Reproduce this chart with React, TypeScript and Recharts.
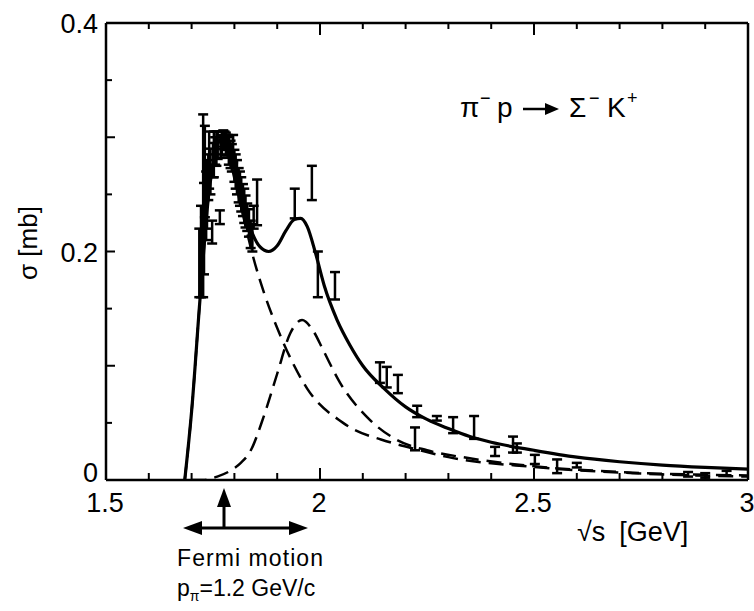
import {
  ComposedChart,
  Line,
  Scatter,
  ErrorBar,
  XAxis,
  YAxis,
} from 'recharts';

// total cross section (solid)
const totalX = [1.684, 1.7, 1.72, 1.74, 1.755, 1.765, 1.775, 1.785, 1.8, 1.82, 1.84, 1.86, 1.88, 1.9, 1.92, 1.94, 1.955, 1.97, 1.99, 2.01, 2.04, 2.07, 2.1, 2.15, 2.2, 2.25, 2.3, 2.35, 2.4, 2.5, 2.6, 2.7, 2.8, 2.9, 3.0];
const totalY = [0, 0.06, 0.16, 0.25, 0.285, 0.297, 0.3, 0.295, 0.275, 0.245, 0.218, 0.204, 0.2, 0.205, 0.218, 0.228, 0.229, 0.222, 0.198, 0.17, 0.14, 0.118, 0.1, 0.08, 0.064, 0.053, 0.045, 0.038, 0.033, 0.026, 0.02, 0.016, 0.013, 0.011, 0.0095];

// first resonance (dashed)
const res1X = [1.684, 1.7, 1.72, 1.74, 1.755, 1.765, 1.775, 1.785, 1.8, 1.82, 1.844, 1.87, 1.9, 1.923, 1.97, 2.054, 2.164, 2.234, 2.3, 2.5, 2.73, 3.0];
const res1Y = [0, 0.06, 0.16, 0.25, 0.283, 0.293, 0.295, 0.287, 0.264, 0.232, 0.195, 0.163, 0.133, 0.113, 0.08, 0.05, 0.033, 0.026, 0.02, 0.0114, 0.006, 0.003];

// second resonance (dashed)
const res2X = [1.7, 1.727, 1.76, 1.79, 1.815, 1.837, 1.868, 1.9, 1.93, 1.958, 1.985, 2.007, 2.047, 2.11, 2.18, 2.25, 2.35, 2.5, 2.7, 3.0];
const res2Y = [0, 0, 0.003, 0.008, 0.015, 0.025, 0.055, 0.093, 0.128, 0.14, 0.13, 0.114, 0.085, 0.055, 0.035, 0.026, 0.019, 0.012, 0.007, 0.004];

// measured points
const pointX = [1.718, 1.722, 1.727, 1.729, 1.731, 1.734, 1.736, 1.739, 1.741, 1.744, 1.748, 1.75, 1.752, 1.755, 1.758, 1.761, 1.766, 1.768, 1.771, 1.774, 1.777, 1.78, 1.784, 1.787, 1.791, 1.794, 1.797, 1.8, 1.803, 1.806, 1.81, 1.813, 1.816, 1.82, 1.823, 1.826, 1.83, 1.834, 1.838, 1.842, 1.845, 1.853, 1.941, 1.981, 1.995, 2.035, 2.14, 2.156, 2.182, 2.222, 2.227, 2.273, 2.311, 2.36, 2.409, 2.451, 2.46, 2.502, 2.554, 2.6, 2.86, 2.9, 2.95];
const pointY = [0.19, 0.2, 0.24, 0.22, 0.27, 0.24, 0.25, 0.265, 0.28, 0.27, 0.217, 0.28, 0.285, 0.288, 0.29, 0.293, 0.23, 0.292, 0.295, 0.298, 0.297, 0.294, 0.292, 0.288, 0.285, 0.282, 0.29, 0.275, 0.27, 0.265, 0.258, 0.255, 0.25, 0.245, 0.24, 0.235, 0.23, 0.225, 0.215, 0.212, 0.23, 0.243, 0.242, 0.26, 0.18, 0.17, 0.094, 0.09, 0.084, 0.036, 0.06, 0.054, 0.048, 0.046, 0.025, 0.031, 0.028, 0.018, 0.012, 0.013, 0.005, 0.004, 0.006];
const pointErr = [0.03, 0.04, 0.08, 0.04, 0.04, 0.03, 0.03, 0.02, 0.025, 0.02, 0.01, 0.015, 0.02, 0.012, 0.015, 0.012, 0.006, 0.01, 0.01, 0.008, 0.008, 0.01, 0.01, 0.012, 0.012, 0.012, 0.012, 0.014, 0.015, 0.015, 0.015, 0.015, 0.015, 0.014, 0.015, 0.014, 0.012, 0.012, 0.012, 0.012, 0.01, 0.02, 0.013, 0.015, 0.02, 0.012, 0.009, 0.009, 0.008, 0.01, 0.005, 0.002, 0.007, 0.01, 0.004, 0.007, 0.004, 0.004, 0.006, 0.002, 0.002, 0.002, 0.002];

const xTicks = [1.5, 1.6, 1.7, 1.8, 1.9, 2.0, 2.1, 2.2, 2.3, 2.4, 2.5, 2.6, 2.7, 2.8, 2.9, 3.0];
const yTicks = [0, 0.05, 0.1, 0.15, 0.2, 0.25, 0.3, 0.35, 0.4];

const totalData = totalX.map((x, i) => ({ x, y: totalY[i] }));
const res1Data = res1X.map((x, i) => ({ x, y: res1Y[i] }));
const res2Data = res2X.map((x, i) => ({ x, y: res2Y[i] }));
const pointData = pointX.map((x, i) => ({ x, y: pointY[i], e: pointErr[i] }));

const FONT = "'Liberation Sans', Arial, sans-serif";
const isMult = (v: number, step: number) => Math.abs(v / step - Math.round(v / step)) < 1e-6;
const fmt = (v: number) => String(Number(v.toFixed(2)));

const BottomTick = (props: any) => {
  const { x, y, payload } = props;
  const major = isMult(payload.value, 0.5);
  return (
    <g>
      <line x1={x} x2={x} y1={y} y2={y - (major ? 12 : 7)} stroke="#000" strokeWidth={2} />
      {major && (
        <text x={x - 1} y={y + 32} textAnchor="middle" fontSize={27} fontFamily={FONT} fill="#000">
          {fmt(payload.value)}
        </text>
      )}
    </g>
  );
};

const TopTick = (props: any) => {
  const { x, y, payload } = props;
  const major = isMult(payload.value, 0.5);
  return <line x1={x} x2={x} y1={y} y2={y + (major ? 12 : 6)} stroke="#000" strokeWidth={2} />;
};

const LeftTick = (props: any) => {
  const { x, y, payload } = props;
  const major = isMult(payload.value, 0.1);
  const labeled = isMult(payload.value, 0.2);
  return (
    <g>
      <line x1={x} x2={x + (major ? 9 : 6)} y1={y} y2={y} stroke="#000" strokeWidth={2} />
      {labeled && (
        <text x={x - 8} y={y + (payload.value === 0 ? 2 : 10)} textAnchor="end" fontSize={27} fontFamily={FONT} fill="#000">
          {fmt(payload.value)}
        </text>
      )}
    </g>
  );
};

const RightTick = (props: any) => {
  const { x, y, payload } = props;
  const major = isMult(payload.value, 0.1);
  return <line x1={x} x2={x - (major ? 9 : 6)} y1={y} y2={y} stroke="#000" strokeWidth={2} />;
};

const Blank = () => <g />;

export default function App() {
  return (
    <div style={{ position: 'absolute', left: 0, top: 0, width: 754, height: 611, background: '#fff' }}>
      <ComposedChart
        width={754}
        height={611}
        margin={{ top: 20, right: 3, bottom: 101, left: 56 }}
      >
        <XAxis
          dataKey="x"
          type="number"
          domain={[1.5, 3]}
          ticks={xTicks}
          allowDataOverflow
          height={30}
          tickSize={0}
          tickMargin={0}
          tick={<BottomTick />}
          axisLine={{ stroke: '#000', strokeWidth: 2.5 }}
          interval={0}
        />
        <XAxis
          xAxisId="top"
          orientation="top"
          dataKey="x"
          type="number"
          domain={[1.5, 3]}
          ticks={xTicks}
          allowDataOverflow
          height={3}
          tickSize={0}
          tickMargin={0}
          tick={<TopTick />}
          axisLine={{ stroke: '#000', strokeWidth: 2.5 }}
          interval={0}
        />
        <YAxis
          type="number"
          domain={[0, 0.4]}
          ticks={yTicks}
          allowDataOverflow
          width={50}
          tickSize={0}
          tickMargin={0}
          tick={<LeftTick />}
          axisLine={{ stroke: '#000', strokeWidth: 2.5 }}
          interval={0}
        />
        <YAxis
          yAxisId="right"
          orientation="right"
          type="number"
          domain={[0, 0.4]}
          ticks={yTicks}
          width={3}
          tickSize={0}
          tickMargin={0}
          tick={<RightTick />}
          axisLine={{ stroke: '#000', strokeWidth: 2.5 }}
          interval={0}
        />
        <Line
          data={res1Data}
          dataKey="y"
          type="monotone"
          stroke="#000"
          strokeWidth={2.5}
          strokeDasharray="15 8"
          dot={false}
          isAnimationActive={false}
        />
        <Line
          data={res2Data}
          dataKey="y"
          type="monotone"
          stroke="#000"
          strokeWidth={2.5}
          strokeDasharray="15 8"
          dot={false}
          isAnimationActive={false}
        />
        <Line
          data={totalData}
          dataKey="y"
          type="monotone"
          stroke="#000"
          strokeWidth={3.2}
          dot={false}
          isAnimationActive={false}
        />
        <Scatter data={pointData} dataKey="y" shape={<Blank />} isAnimationActive={false}>
          <ErrorBar dataKey="e" direction="y" width={5} stroke="#000" strokeWidth={2.5} isAnimationActive={false} />
        </Scatter>
      </ComposedChart>

      <svg
        width={754}
        height={611}
        style={{ position: 'absolute', left: 0, top: 0, pointerEvents: 'none' }}
        fontFamily={FONT}
        fill="#000"
      >
        {/* reaction label */}
        <text x={460} y={117} fontSize={28}>π</text>
        <text x={480} y={104} fontSize={18}>−</text>
        <text x={497} y={117} fontSize={28}>p</text>
        <line x1={523} x2={548} y1={109} y2={109} stroke="#000" strokeWidth={2.5} />
        <polygon points="559,109 545,103 545,115" fill="#000" />
        <text x={569} y={117} fontSize={28}>Σ</text>
        <text x={589} y={104} fontSize={18}>−</text>
        <text x={607} y={117} fontSize={28}>K</text>
        <text x={627} y={104} fontSize={18}>+</text>

        <text
          x={0}
          y={0}
          fontSize={26}
          textAnchor="middle"
          transform="translate(37 243) rotate(-90)"
        >
          σ [mb]
        </text>

        <text x={577} y={541} fontSize={27}>
          √s<tspan dx={14}>[GeV]</tspan>
        </text>

        <line x1={224} x2={224} y1={503} y2={528} stroke="#000" strokeWidth={3} />
        <polygon points="224,488 217,507 231,507" fill="#000" />
        <line x1={195} x2={296} y1={528} y2={528} stroke="#000" strokeWidth={3} />
        <polygon points="183,528 202,521 202,535" fill="#000" />
        <polygon points="308,528 289,521 289,535" fill="#000" />

        <text x={177} y={566} fontSize={23} textLength={146}>
          Fermi motion
        </text>
        <text x={177} y={596} fontSize={23}>
          p<tspan dy={5} fontSize={14}>π</tspan>
          <tspan dy={-5}>=1.2 GeV/c</tspan>
        </text>
      </svg>
    </div>
  );
}
